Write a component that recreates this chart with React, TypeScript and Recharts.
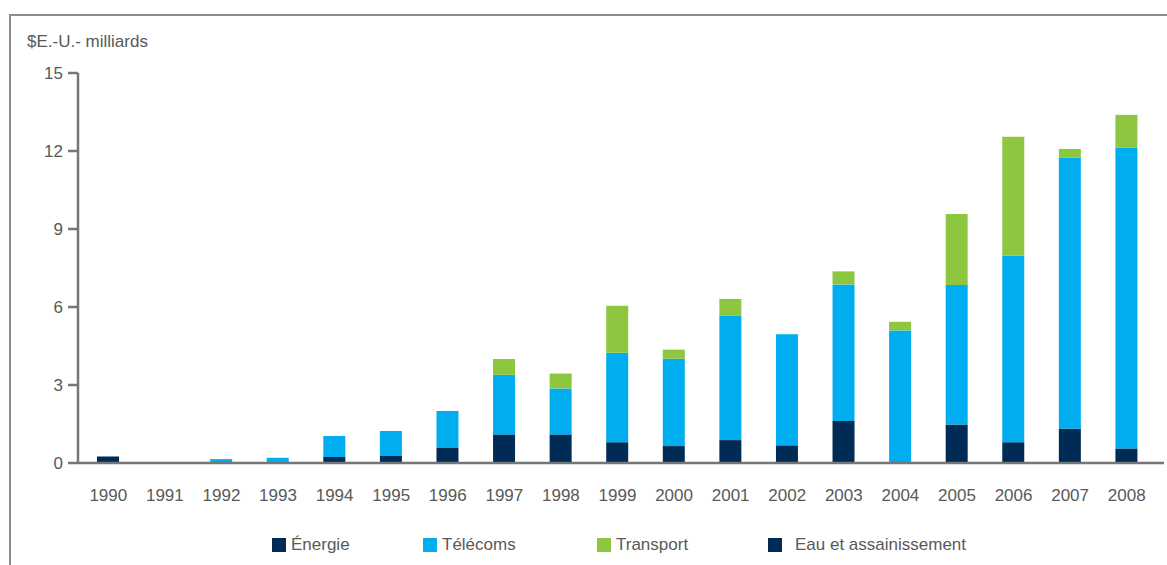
import { BarChart, Bar, XAxis, YAxis } from "recharts";

const years = [
  "1990", "1991", "1992", "1993", "1994", "1995", "1996", "1997", "1998", "1999",
  "2000", "2001", "2002", "2003", "2004", "2005", "2006", "2007", "2008",
];
const energie = [0.25, 0, 0, 0, 0.23, 0.27, 0.6, 1.1, 1.1, 0.8, 0.65, 0.88, 0.68, 1.62, 0, 1.48, 0.8, 1.32, 0.56];
const telecoms = [0, 0, 0.15, 0.2, 0.81, 0.96, 1.4, 2.29, 1.77, 3.44, 3.36, 4.78, 4.27, 5.25, 5.1, 5.37, 7.17, 10.42, 11.56];
const transport = [0, 0, 0, 0, 0, 0, 0, 0.61, 0.57, 1.81, 0.35, 0.65, 0, 0.5, 0.33, 2.73, 4.58, 0.34, 1.27];
const eau = [0, 0, 0, 0, 0, 0, 0, 0, 0, 0, 0, 0, 0, 0, 0, 0, 0, 0, 0];
const yTicks = [0, 3, 6, 9, 12, 15];

const series = [
  { key: "energie", name: "Énergie", color: "#002B55" },
  { key: "telecoms", name: "Télécoms", color: "#00AEEF" },
  { key: "transport", name: "Transport", color: "#8DC63F" },
  { key: "eau", name: "Eau et assainissement", color: "#002B55" },
];

const data = years.map((year, i) => ({
  year,
  energie: energie[i],
  telecoms: telecoms[i],
  transport: transport[i],
  eau: eau[i],
}));

const FONT = '"Liberation Sans", Arial, sans-serif';
const TEXT = "#595959";
const AXIS = "#767676";

// legend item left edges, as in the original layout
const legendLeft = [272, 423, 597, 768];

export default function App() {
  return (
    <div style={{ position: "relative", width: 1167, height: 565, fontFamily: FONT, background: "#fff" }}>
      <style>{`body{margin:0}`}</style>
      {/* frame */}
      <div
        style={{
          position: "absolute",
          left: 9,
          top: 14,
          right: 0,
          bottom: 0,
          borderTop: "2px solid #8c8c8c",
          borderLeft: "2px solid #8c8c8c",
        }}
      />
      <div style={{ position: "absolute", left: 27, top: 32, fontSize: 17, color: TEXT }}>
        $E.-U.- milliards
      </div>

      <BarChart
        width={1167}
        height={565}
        data={data}
        margin={{ top: 73, right: 3, bottom: 72, left: 0 }}
        barSize={22}
        style={{ position: "absolute", left: 0, top: 0 }}
      >
        <XAxis
          dataKey="year"
          height={30}
          axisLine={{ stroke: AXIS, strokeWidth: 2.5 }}
          tickLine={false}
          tickMargin={20}
          padding={{ left: 2, right: 9 }}
          interval={0}
          tick={{ fill: TEXT, fontSize: 17, fontFamily: FONT }}
        />
        <YAxis
          width={78}
          domain={[0, 15]}
          ticks={yTicks}
          allowDataOverflow
          axisLine={{ stroke: AXIS, strokeWidth: 2.5 }}
          tickLine={{ stroke: AXIS, strokeWidth: 2.5 }}
          tickSize={10}
          tickMargin={5}
          tick={{ fill: TEXT, fontSize: 17, fontFamily: FONT }}
        />
        {series.map((s) => (
          <Bar
            key={s.key}
            dataKey={s.key}
            name={s.name}
            stackId="a"
            fill={s.color}
            isAnimationActive={false}
          />
        ))}
      </BarChart>

      {/* legend */}
      {series.map((s, i) => (
        <div
          key={s.key}
          style={{
            position: "absolute",
            left: legendLeft[i],
            top: 535,
            display: "flex",
            alignItems: "center",
            fontSize: 17,
            color: TEXT,
            whiteSpace: "nowrap",
          }}
        >
          <span
            style={{
              display: "inline-block",
              width: 14,
              height: 14,
              background: s.color,
              marginRight: i === 3 ? 13 : 5,
            }}
          />
          {s.name}
        </div>
      ))}
    </div>
  );
}
